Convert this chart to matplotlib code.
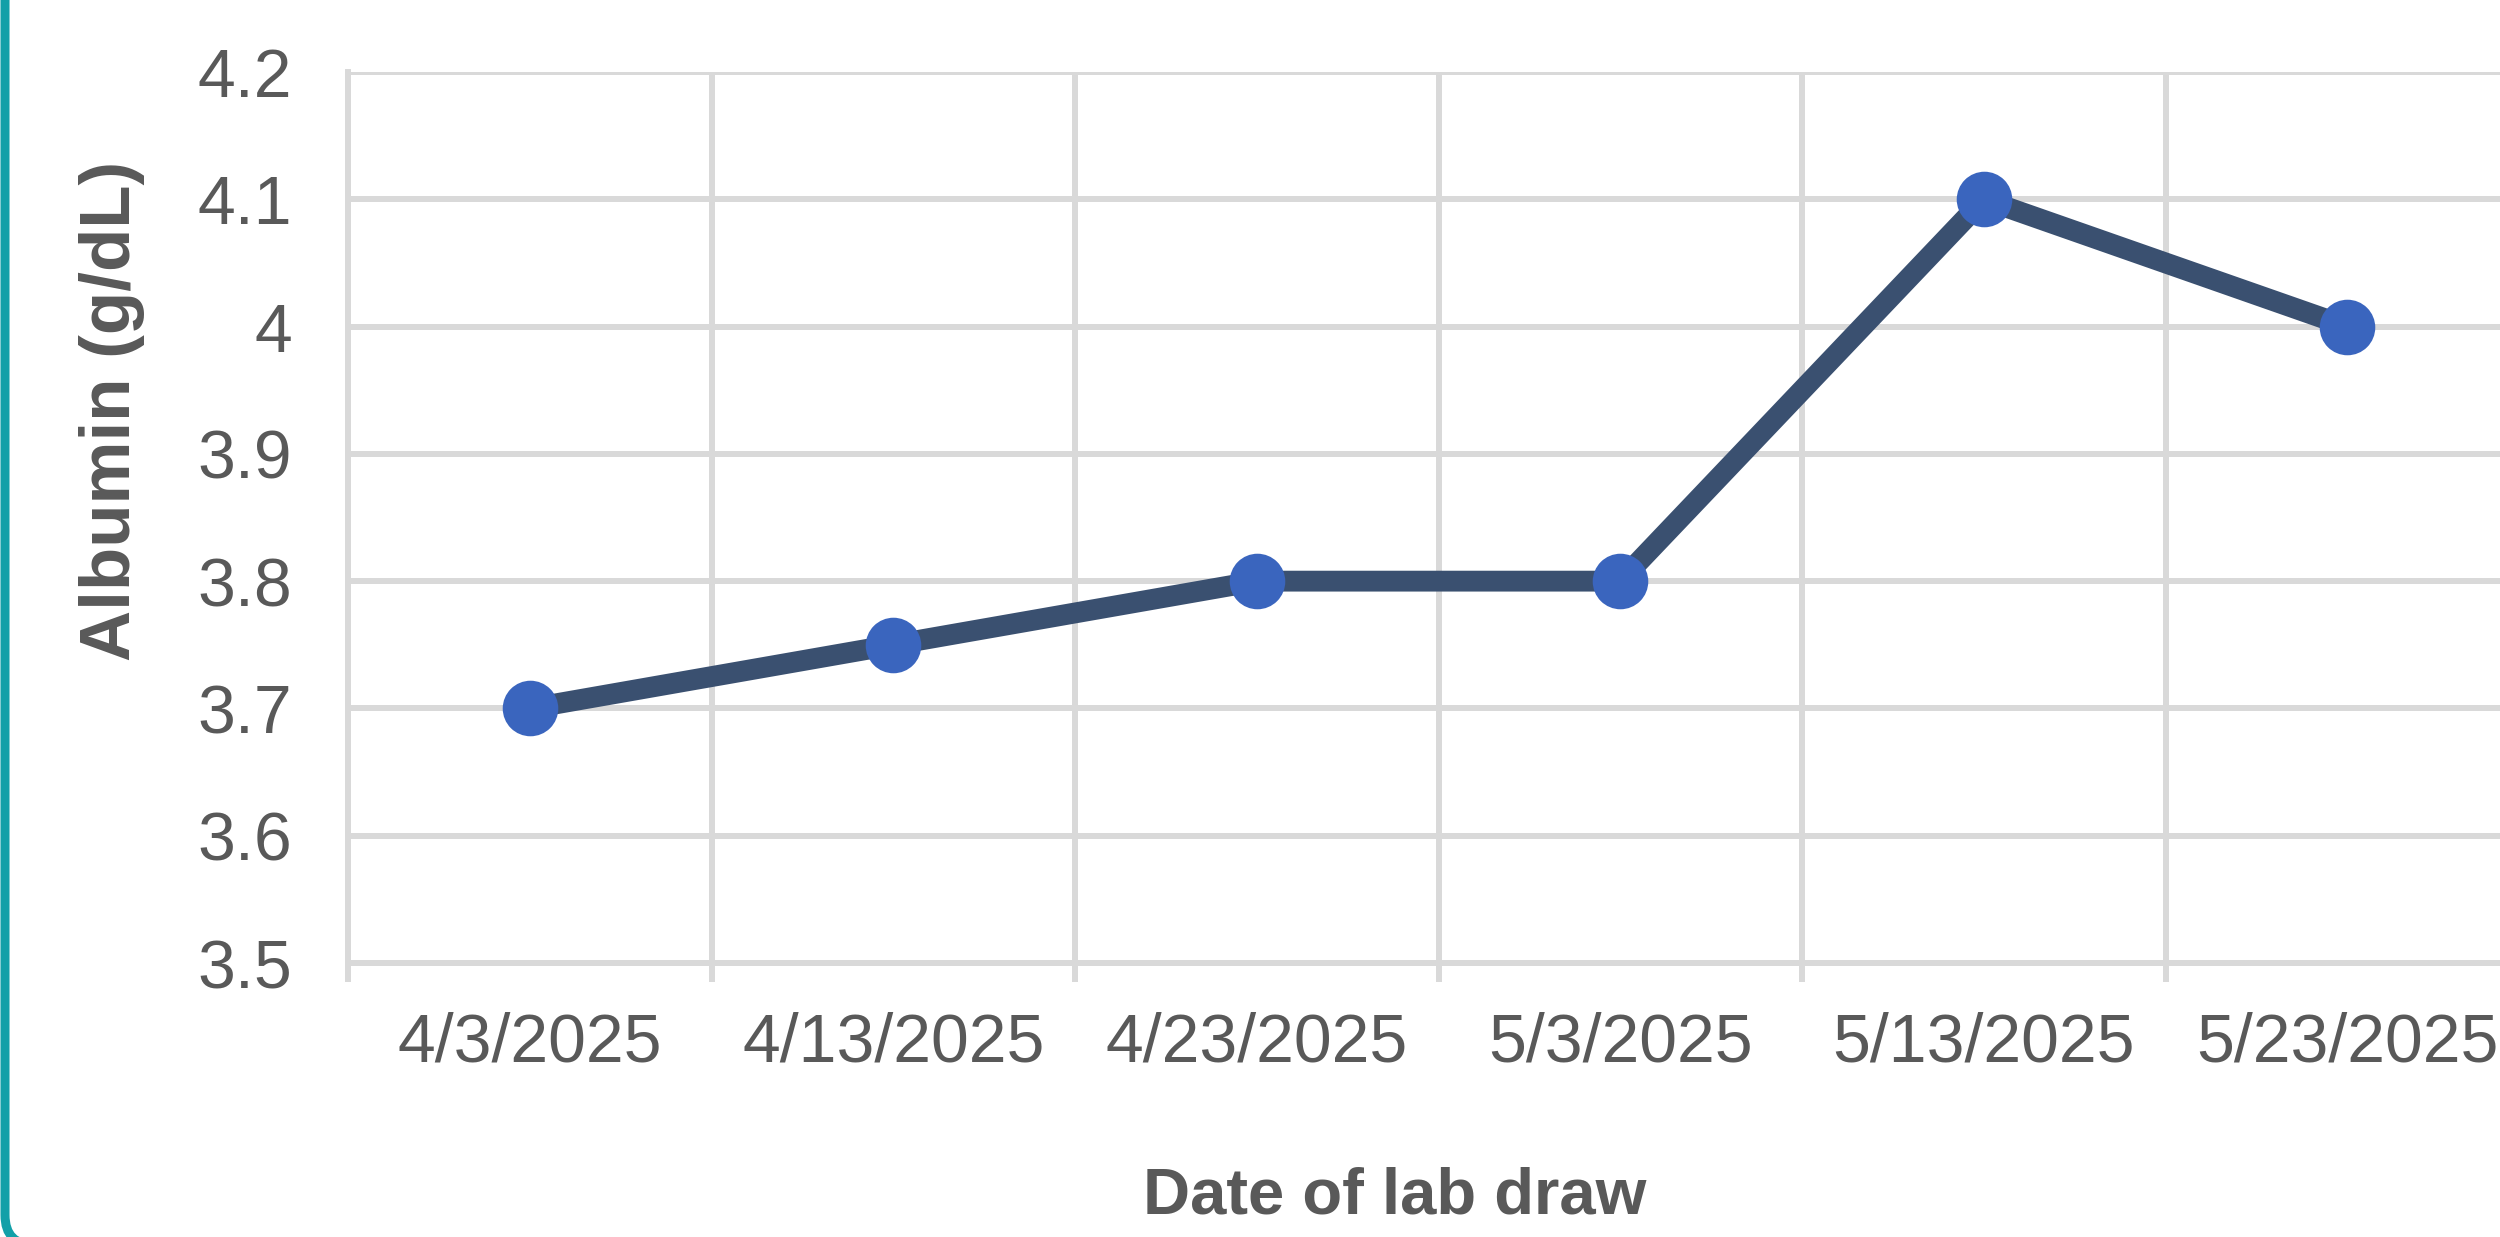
import matplotlib
matplotlib.use("Agg")
import matplotlib.pyplot as plt
import numpy as np
from matplotlib.patches import FancyBboxPatch
from matplotlib.transforms import IdentityTransform

# Albumin lab results, one per draw date
draw_dates = ["4/3/2025", "4/13/2025", "4/23/2025", "5/3/2025", "5/13/2025", "5/23/2025"]
albumin = [3.7, 3.75, 3.8, 3.8, 4.1, 4.0]
y_ticks = [3.5, 3.6, 3.7, 3.8, 3.9, 4.0, 4.1, 4.2]
y_tick_labels = ["3.5", "3.6", "3.7", "3.8", "3.9", "4", "4.1", "4.2"]

TEXT = "#595959"
GRID = "#D9D9D9"

plt.rcParams["font.family"] = ["Liberation Sans", "DejaVu Sans"]

fig = plt.figure(figsize=(25, 12.37), dpi=100)
ax = fig.add_axes([0.1392, 0.2215, 0.8724, 0.7203])

x = np.arange(len(draw_dates))
ax.plot(x, albumin, color="#3A5070", linewidth=15, zorder=3,
        marker="o", markersize=40, markerfacecolor="#3A65BE",
        markeredgecolor="#3A65BE", markeredgewidth=0)

ax.set_xlim(-0.5, len(draw_dates) - 0.5)
ax.set_ylim(3.5, 4.2)

# category boundaries carry the vertical gridlines and tick marks
ax.set_xticks(np.arange(-0.5, len(draw_dates), 1.0))
ax.set_xticks(x, minor=True)
ax.set_xticklabels([])
ax.set_xticklabels(draw_dates, minor=True)
ax.tick_params(axis="x", which="major", length=14, width=4.3, color=GRID)
ax.tick_params(axis="x", which="minor", length=0, pad=35,
               labelsize=49, labelcolor=TEXT)
ax.xaxis.grid(True, which="major", color=GRID, linewidth=4.3)

ax.set_yticks(y_ticks)
ax.set_yticklabels(y_tick_labels)
ax.tick_params(axis="y", length=0, pad=40, labelsize=49, labelcolor=TEXT)
ax.yaxis.grid(True, color=GRID, linewidth=4.3)
ax.set_axisbelow(True)

for side in ["top", "right"]:
    ax.spines[side].set_visible(False)
for side in ["left", "bottom"]:
    ax.spines[side].set_color(GRID)
    ax.spines[side].set_linewidth(4.3)

ax.set_ylabel("Albumin (g/dL)", fontsize=51, fontweight="bold", color=TEXT,
              va="center")
ax.yaxis.set_label_coords(-0.108, 0.62)
ax.set_xlabel("Date of lab draw", fontsize=47, fontweight="bold", color=TEXT,
              va="center")
ax.xaxis.set_label_coords(0.48, -0.262)

# teal frame around the card, only its left side is in view
frame = FancyBboxPatch((5, -8), 2700, 1500,
                       boxstyle="round,pad=0,rounding_size=30",
                       transform=IdentityTransform(), fill=False,
                       edgecolor="#12A0A8", linewidth=6.5, zorder=10)
fig.patches.append(frame)

fig.savefig("out.png", dpi=100)
